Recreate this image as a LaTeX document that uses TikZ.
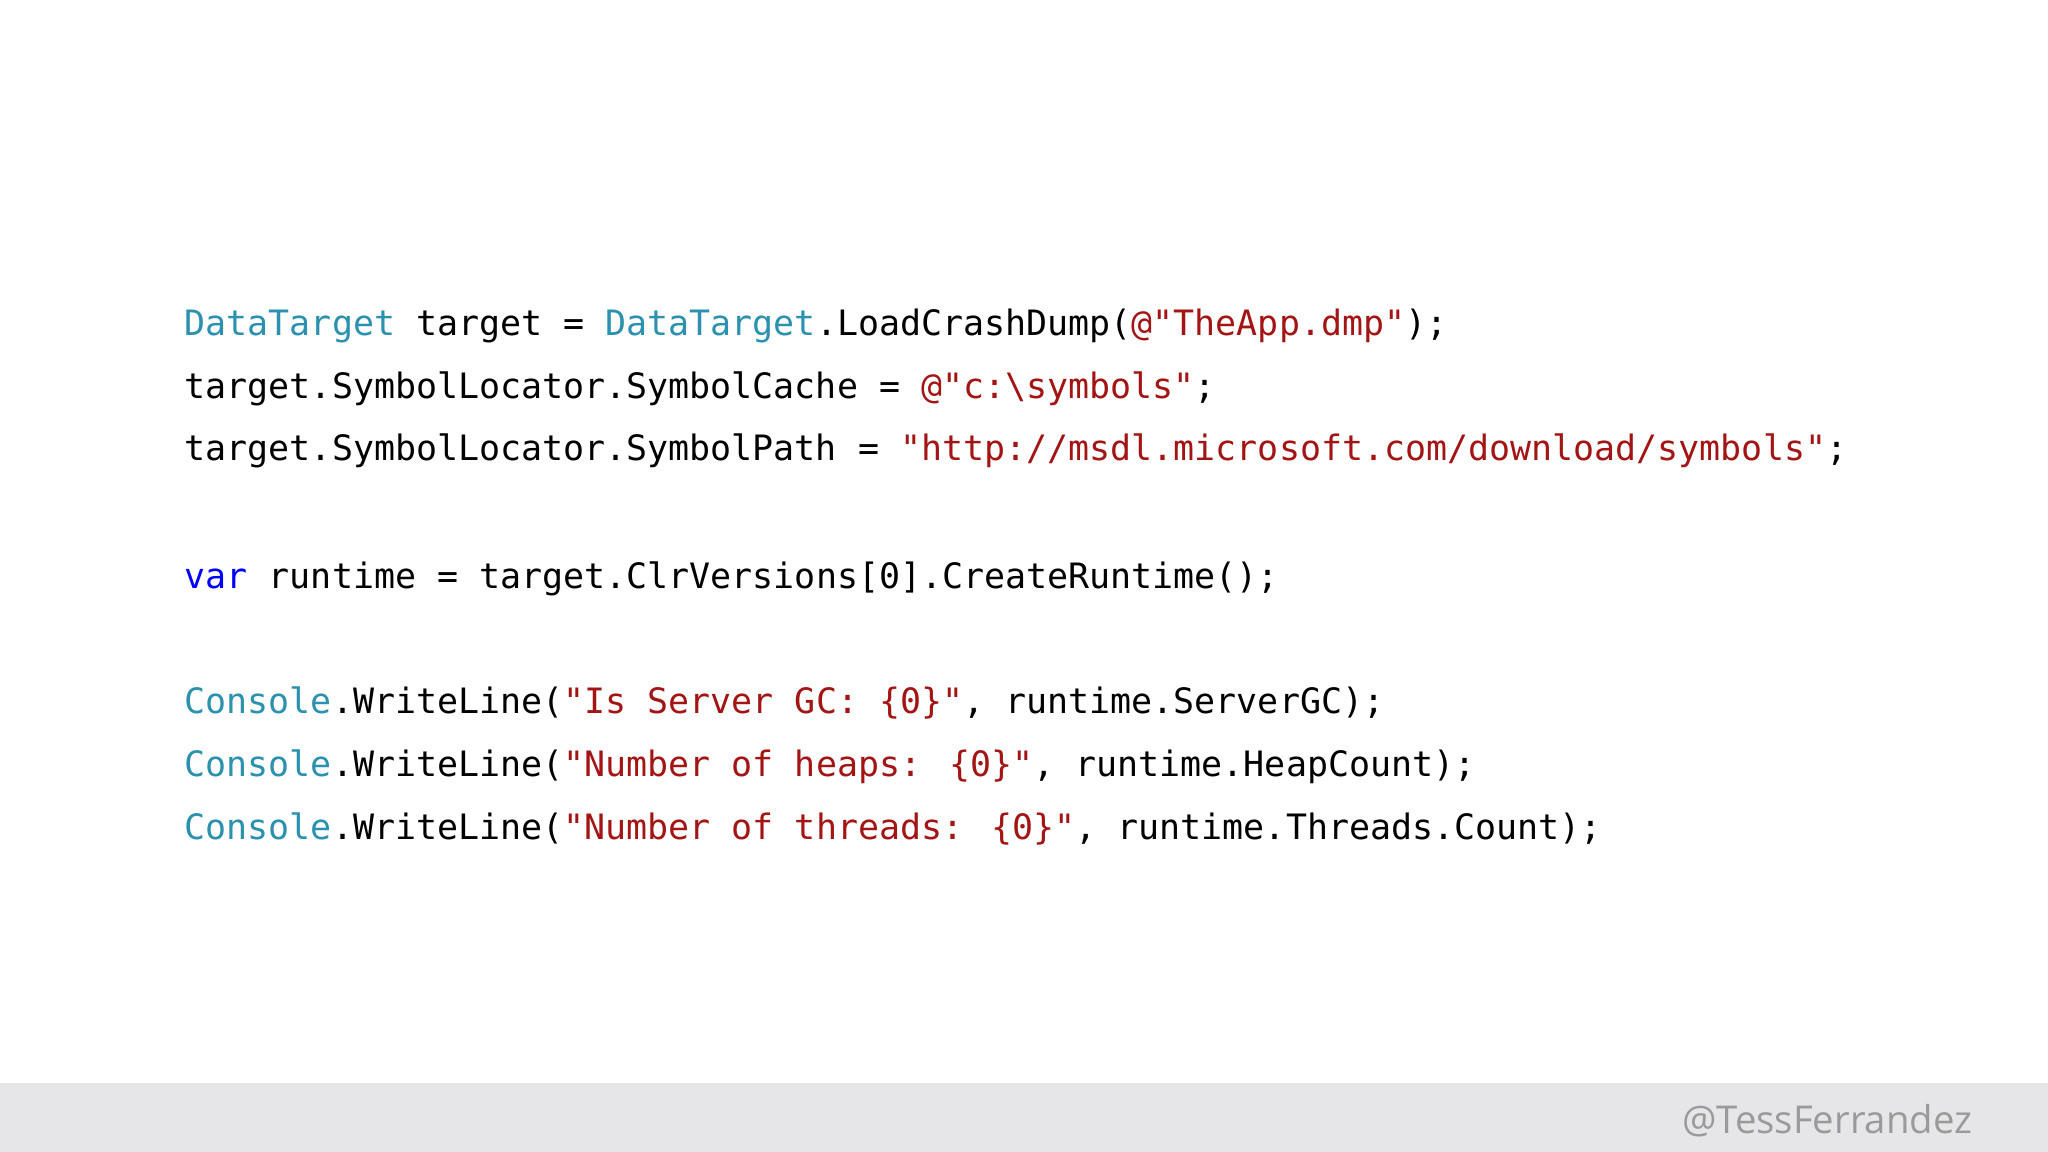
\documentclass[tikz,border=0pt]{standalone}
\usepackage{fontspec}
\newfontfamily\code{DejaVu Sans Mono}
\newfontfamily\foot{Open Sans}
\definecolor{ty}{HTML}{2B91AF}
\definecolor{kw}{HTML}{0000FF}
\definecolor{st}{HTML}{A31515}
\definecolor{band}{HTML}{E6E6E8}
\definecolor{ft}{HTML}{9A9A9A}
\newcommand{\T}[1]{\textcolor{ty}{#1}}
\newcommand{\K}[1]{\textcolor{kw}{#1}}
\newcommand{\Sx}[1]{\textcolor{st}{#1}}
\tikzset{codeline/.style={anchor=base west,inner sep=0pt,font=\code\fontsize{9.94pt}{11pt}\selectfont}}
\begin{document}
\begin{tikzpicture}[x=0.01cm,y=-0.01cm]
\useasboundingbox (0,0) rectangle (2048,1152);
\fill[white] (0,0) rectangle (2048,1152);
\fill[band] (0,1083) rectangle (2048,1152);
\node[codeline] (l1) at (184,336) {\T{DataTarget} target = \T{DataTarget}.LoadCrashDump(\Sx{@"TheApp.dmp"});};
\node[codeline] (l2) at (184,399) {target.SymbolLocator.SymbolCache = \Sx{@"c:\textbackslash symbols"};};
\node[codeline] (l3) at (184,461) {target.SymbolLocator.SymbolPath = \Sx{"http://msdl.microsoft.com/download/symbols"};};
\node[codeline] (l4) at (184,588) {\K{var} runtime = target.ClrVersions[0].CreateRuntime();};
\node[codeline] (l5) at (184,713) {\T{Console}.WriteLine(\Sx{"Is Server GC: \{0\}"}, runtime.ServerGC);};
\node[codeline] (l6) at (184,776) {\T{Console}.WriteLine(\Sx{"Number of heaps: \{0\}"}, runtime.HeapCount);};
\node[codeline] (l7) at (184,839) {\T{Console}.WriteLine(\Sx{"Number of threads: \{0\}"}, runtime.Threads.Count);};
\node[anchor=base east,inner sep=0pt,text=ft,font=\foot\fontsize{10.9pt}{13pt}\selectfont] (ftx) at (1973,1133) {@TessFerrandez};
\end{tikzpicture}
\end{document}
